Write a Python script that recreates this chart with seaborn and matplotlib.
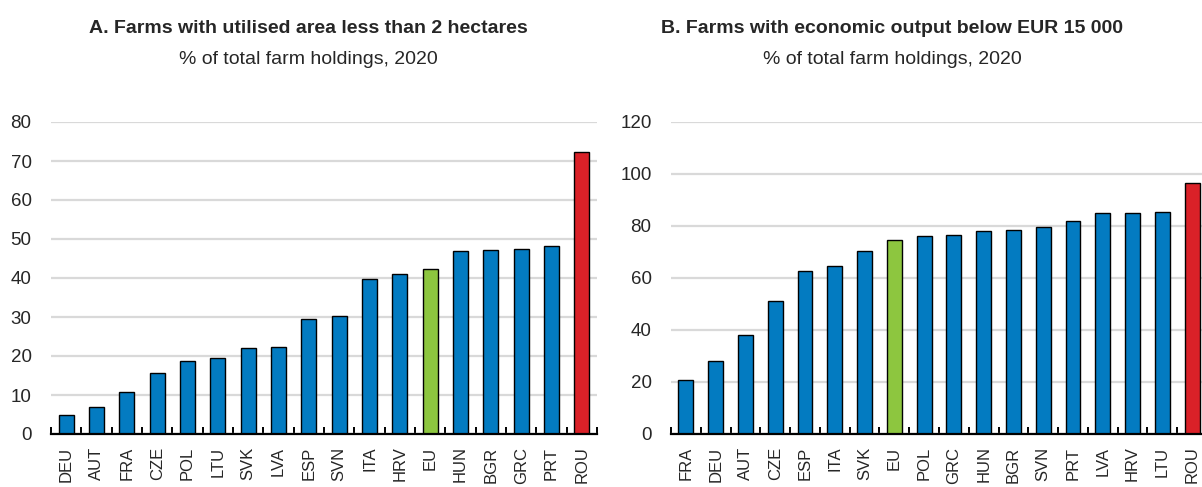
import pandas as pd
import matplotlib
matplotlib.use('Agg')
import matplotlib.pyplot as plt
import seaborn as sns
from matplotlib.ticker import FixedLocator

# Datos panel A: explotaciones con superficie < 2 ha
paises_a = ['DEU', 'AUT', 'FRA', 'CZE', 'POL', 'LTU', 'SVK', 'LVA', 'ESP', 'SVN',
            'ITA', 'HRV', 'EU', 'HUN', 'BGR', 'GRC', 'PRT', 'ROU']
valores_a = [5.0, 6.9, 10.8, 15.6, 18.8, 19.4, 22.1, 22.4, 29.6, 30.3,
             39.7, 40.9, 42.4, 47.0, 47.2, 47.5, 48.2, 72.4]

# Datos panel B: explotaciones con producción < 15 000 EUR
paises_b = ['FRA', 'DEU', 'AUT', 'CZE', 'ESP', 'ITA', 'SVK', 'EU', 'POL', 'GRC',
            'HUN', 'BGR', 'SVN', 'PRT', 'LVA', 'HRV', 'LTU', 'ROU']
valores_b = [20.8, 28.2, 38.1, 51.0, 62.8, 64.6, 70.3, 74.7, 76.2, 76.5,
             78.2, 78.3, 79.7, 81.9, 84.9, 85.1, 85.3, 96.7]

AZUL = '#037BC1'
VERDE = '#8DC63F'
ROJO = '#DA2128'


def color_pais(p):
    if p == 'EU':
        return VERDE
    if p == 'ROU':
        return ROJO
    return AZUL


sns.set_style('white')
plt.rcParams['font.family'] = ['Liberation Sans', 'DejaVu Sans']

fig = plt.figure(figsize=(12.02, 4.87), dpi=100)
W, H = 1202, 487


def panel(rect, paises, valores, ymax, paso, titulo, xc):
    ax = fig.add_axes(rect)
    df = pd.DataFrame({'pais': paises, 'valor': valores})
    paleta = {p: color_pais(p) for p in paises}
    sns.barplot(data=df, x='pais', y='valor', hue='pais', palette=paleta, legend=False,
                width=0.5, edgecolor='black', linewidth=1.0, saturation=1, ax=ax)
    ax.set_xlim(-0.5, len(paises) - 0.5)
    ax.set_ylim(0, ymax)
    ax.set_yticks(range(0, ymax + 1, paso))
    ax.set_axisbelow(True)
    ax.yaxis.grid(True, color='#D9D9D9', linewidth=1.6)
    ax.xaxis.grid(False)
    for s in ['top', 'right', 'left']:
        ax.spines[s].set_visible(False)
    ax.spines['bottom'].set_color('black')
    ax.spines['bottom'].set_linewidth(1.6)
    ax.set_xlabel('')
    ax.set_ylabel('')
    ax.tick_params(axis='y', length=0, pad=14, labelsize=13.5)
    ax.tick_params(axis='x', which='major', length=0, pad=9, labelsize=12, rotation=90)
    ax.xaxis.set_minor_locator(FixedLocator([i - 0.5 for i in range(len(paises) + 1)]))
    ax.tick_params(axis='x', which='minor', direction='in', length=5, width=1.4,
                   color='black', bottom=True)
    fig.text(xc / W, 1 - 33 / H, titulo, ha='center', va='baseline',
             fontsize=14, fontweight='bold')
    fig.text(xc / W, 1 - 64 / H, '% of total farm holdings, 2020', ha='center',
             va='baseline', fontsize=14)
    return ax


panel([51 / W, 53 / H, 546 / W, 312 / H], paises_a, valores_a, 80, 10,
      'A. Farms with utilised area less than 2 hectares', 308)
panel([671 / W, 53 / H, 536 / W, 312 / H], paises_b, valores_b, 120, 20,
      'B. Farms with economic output below EUR 15 000', 892)

fig.savefig('out.png', dpi=100)
